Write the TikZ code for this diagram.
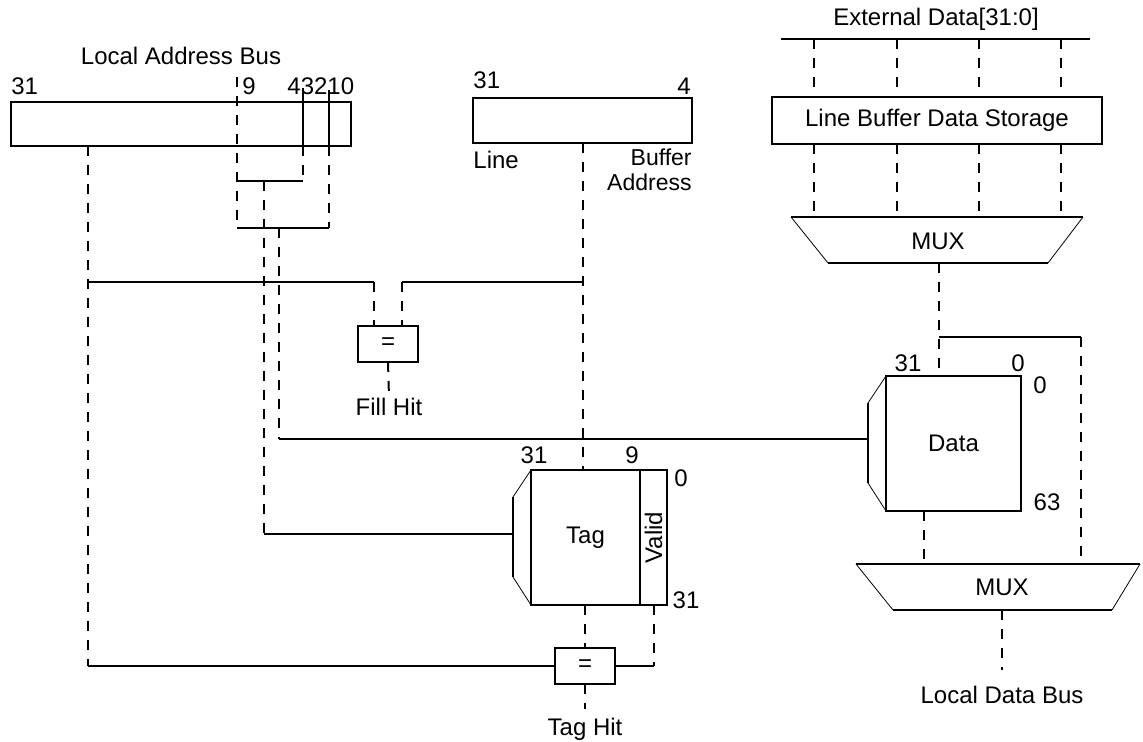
\documentclass[tikz,border=0pt]{standalone}
\usepackage{fontspec}
\setmainfont{Liberation Sans}
\usetikzlibrary{calc}

\begin{document}
\begin{tikzpicture}[x=0.5pt,y=-0.5pt,
  font=\fontsize{12}{14}\selectfont,
  blk/.style={draw,line width=1pt,inner sep=0pt,outer sep=0pt},
  wire/.style={line width=1pt},
  bus/.style={line width=1pt,dash pattern=on 5pt off 4.5pt},
  slant/.style={line width=0.4pt},
  sep/.style={line width=0.6pt},
  lbl/.style={inner sep=0pt}]
  \useasboundingbox (0,0) rectangle (1143,742);

  % blocks
  \node[blk,minimum width=170pt,minimum height=22pt] (addr) at (181,124) {};
  \node[blk,minimum width=109.5pt,minimum height=22.5pt] (lba) at (582.5,120.5) {};
  \node[blk,minimum width=165pt,minimum height=23.5pt] (lbds) at (937,120.5) {Line Buffer Data Storage};
  \node[blk,minimum width=30pt,minimum height=18pt] (fillcmp) at (388,344) {=};
  \node[blk,minimum width=54.5pt,minimum height=67.5pt] (tag) at (585.5,537.5) {Tag};
  \node[blk,minimum width=13.5pt,minimum height=67.5pt] (valid) at (653.5,537.5) {};
  \node[lbl,rotate=90] at (valid) {Valid};
  \node[blk,minimum width=30pt,minimum height=18pt] (tagcmp) at (585,666) {=};
  \node[blk,minimum width=67.5pt,minimum height=67.5pt] (data) at (953.5,443.5) {Data};

  % bus labels
  \node[lbl] (addrlbl) at (181,56) {Local Address Bus};
  \node[lbl] (extlbl) at (936,19) {External Data[31:0]};
  \node[lbl] (fillhit) at (389,407) {Fill Hit};
  \node[lbl] (taghit) at (585,729) {Tag Hit};
  \node[lbl] (ldb) at (1002,695) {Local Data Bus};

  % bit numbers
  \node[lbl,anchor=west] at (11,86) {31};
  \node[lbl] at (249,86) {9};
  \node[lbl,anchor=west] at (287,86) {43210};
  \node[lbl,anchor=west] at (473,80) {31};
  \node[lbl,anchor=east] at (691,86) {4};
  \node[lbl,anchor=west] at (473,160) {Line};
  \node[lbl,anchor=east,font=\fontsize{11.5}{13}\selectfont] at (692,157) {Buffer};
  \node[lbl,anchor=east,font=\fontsize{11.5}{13}\selectfont] at (692,182) {Address};
  \node[lbl] at (534,455) {31};
  \node[lbl] at (632,455) {9};
  \node[lbl] at (681,478) {0};
  \node[lbl] at (686,600) {31};
  \node[lbl] at (908,363) {31};
  \node[lbl] at (1018,363) {0};
  \node[lbl] at (1040,385) {0};
  \node[lbl] at (1047,502) {63};

  % multiplexers
  \draw[wire] (791,217) -- (1083,217) (828,263) -- (1048,263);
  \draw[slant] (791,217) -- (828,263) (1083,217) -- (1048,263);
  \node[lbl] (mux1) at (938,241) {MUX};
  \coordinate (mux1out) at (939,263);
  \draw[wire] (856,564) -- (1140,564) (893,610) -- (1112,610);
  \draw[slant] (856,564) -- (893,610) (1140,564) -- (1112,610);
  \node[lbl] (mux2) at (1002,587) {MUX};
  \coordinate (mux2a) at (924,564);
  \coordinate (mux2b) at (1081,564);
  \coordinate (mux2out) at (1002,610);

  % decoders
  \draw[slant] (tag.north west) -- ++(-18,27) coordinate (tagdt);
  \draw[slant] (tag.south west) -- ++(-18,-28) coordinate (tagdb);
  \draw[wire] (tagdt) -- (tagdb);
  \draw[slant] (data.north west) -- ++(-18,27) coordinate (datadt);
  \draw[slant] (data.south west) -- ++(-18,-28) coordinate (datadb);
  \draw[wire] (datadt) -- (datadb);
  \coordinate (tagdec) at ($(tagdt)!0.46!(tagdb)$);
  \coordinate (datadec) at ($(datadt)!0.45!(datadb)$);

  % external data into the line buffer
  \coordinate (extL) at (781,39);
  \coordinate (extR) at (1090,39);
  \draw[wire] (extL) -- (extR);
  \foreach \x in {814,897,979,1061} {
    \draw[bus] (\x,39) -- (\x,97);
    \draw[bus] (\x,144) -- (\x,217);
  }

  % address fields
  \coordinate (tagtap) at (88,146);
  \coordinate (b9) at (237,77);
  \coordinate (b9low) at (237,228);
  \coordinate (b4) at (303,88);
  \coordinate (b4low) at (303,181);
  \coordinate (b1) at (329,90);
  \coordinate (tagidx) at (264,181);
  \coordinate (dataidx) at (279,228);
  \coordinate (fillL) at (374,282);
  \coordinate (fillR) at (402,282);

  \draw[bus] (b9) -- (b9low);
  \draw[sep] (b4) -- (b4 |- addr.south);
  \draw[bus] (b4 |- addr.south) -- (b4low);
  \draw[wire] (b9 |- b4low) -- (b4low);
  \draw[sep] (b1) -- (b1 |- addr.south);
  \draw[bus] (b1 |- addr.south) -- (b1 |- b9low);
  \draw[wire] (b9low) -- (b1 |- b9low);

  % fill hit compare
  \draw[wire] (tagtap |- fillL) -- (fillL);
  \draw[wire] (fillR) -- (fillR -| lba.south);
  \draw[bus] (fillL) -- (fillL |- fillcmp.north);
  \draw[bus] (fillR) -- (fillR |- fillcmp.north);
  \draw[bus] (fillcmp.south) -- (fillhit.north);
  \draw[bus] (lba.south) -- (lba.south |- tag.north);

  % tag and data index
  \draw[bus] (tagidx) -- (tagidx |- tagdec);
  \draw[wire] (tagidx |- tagdec) -- (tagdec);
  \draw[bus] (dataidx) -- (dataidx |- datadec);
  \draw[wire] (dataidx |- datadec) -- (datadec);

  % tag hit compare
  \draw[bus] (tagtap) -- (tagtap |- tagcmp.west);
  \draw[wire] (tagtap |- tagcmp.west) -- (tagcmp.west);
  \draw[bus] (tagcmp.north |- tag.south) -- (tagcmp.north);
  \draw[bus] (valid.south) -- (valid.south |- tagcmp.east);
  \draw[wire] (tagcmp.east) -- (valid.south |- tagcmp.east);
  \draw[bus] (tagcmp.south) -- ([yshift=4pt]taghit.north);

  % data path
  \draw[bus] (mux1out) -- (mux1out |- data.north);
  \coordinate (split) at (939,337);
  \draw[wire] (split) -- (split -| mux2b);
  \draw[bus] (split -| mux2b) -- (mux2b);
  \draw[bus] (mux2a |- data.south) -- (mux2a);
  \draw[bus] (mux2out) -- ([yshift=8pt]ldb.north);
\end{tikzpicture}
\end{document}
